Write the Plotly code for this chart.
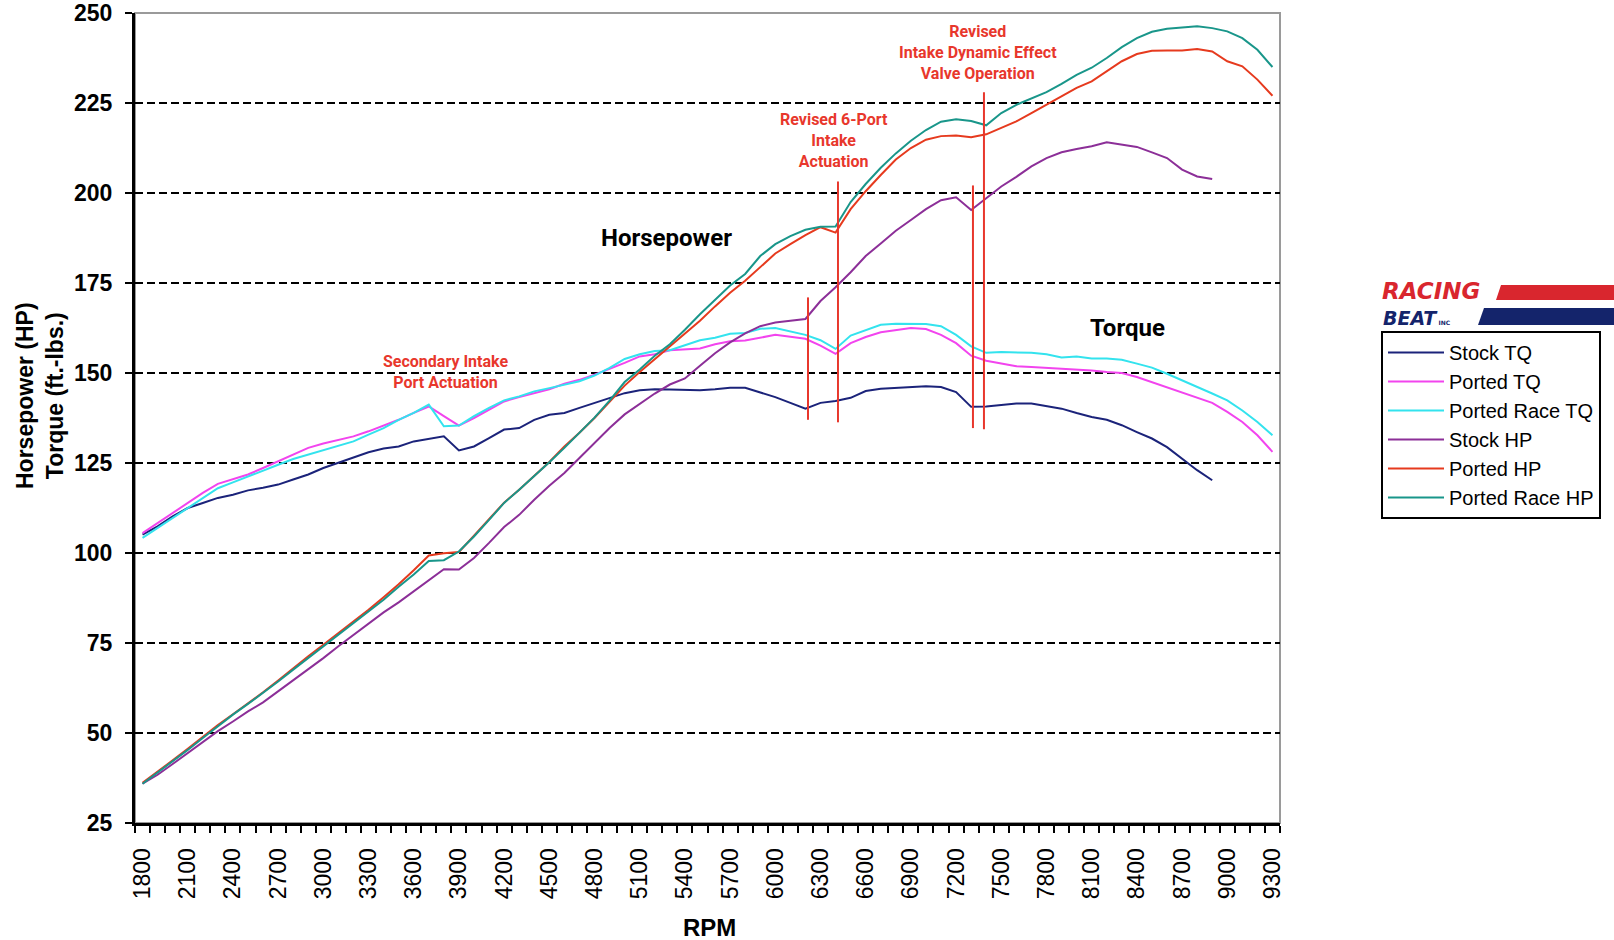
import plotly.graph_objects as go

# ---------------- data ----------------
rpm = list(range(1800, 9301, 100))
tick_rpm = list(range(1800, 9301, 300))

stock_tq = [105.1, 107.4, 110.2, 112.5, 113.9, 115.3, 116.2, 117.4, 118.1, 119.0,
            120.4, 121.8, 123.6, 125.0, 126.4, 128.0, 129.0, 129.6, 131.0, 131.7,
            132.4, 128.5, 129.6, 131.9, 134.3, 134.7, 137.0, 138.4, 138.9, 140.3,
            141.7, 143.0, 144.4, 145.2, 145.5, 145.4, 145.2, 145.2, 145.5, 145.9,
            145.9, 144.7, 143.3, 141.7, 140.1, 141.7, 142.2, 143.1, 145.0, 145.6,
            145.9, 146.1, 146.3, 146.1, 144.7, 140.6, 140.7, 141.1, 141.5, 141.5,
            140.9, 140.1, 138.9, 137.8, 137.0, 135.5, 133.6, 131.8, 129.4, 126.2,
            123.0, 120.2]

ported_tq = [105.5, 108.3, 111.1, 113.9, 116.7, 119.2, 120.4, 121.8, 123.6, 125.5,
             127.5, 129.2, 130.4, 131.5, 132.4, 133.8, 135.4, 137.0, 138.9, 140.7,
             138.0, 135.4, 137.5, 139.8, 142.1, 143.3, 144.4, 145.5, 147.0, 148.1,
             149.5, 151.1, 152.8, 154.6, 155.2, 156.3, 156.5, 156.8, 158.0, 158.8,
             159.0, 159.8, 160.6, 160.1, 159.5, 157.6, 155.3, 158.3, 160.0, 161.3,
             162.0, 162.5, 162.2, 160.6, 158.3, 154.8, 153.4, 152.6, 151.9, 151.7,
             151.5, 151.2, 150.9, 150.7, 150.3, 150.0, 148.9, 147.5, 146.1, 144.7,
             143.3, 141.7, 139.2, 136.4, 132.7, 128.1]

ported_race_tq = [104.2, 107.0, 109.7, 112.5, 115.3, 118.0, 119.6, 121.3, 123.0, 124.5,
                  126.1, 127.3, 128.7, 129.8, 131.0, 132.9, 134.7, 137.0, 138.9, 141.2,
                  135.2, 135.4, 138.0, 140.3, 142.4, 143.5, 144.9, 145.8, 146.8, 147.7,
                  149.3, 151.4, 153.9, 155.2, 156.1, 156.3, 157.7, 159.1, 159.8, 160.9,
                  161.1, 162.3, 162.5, 161.6, 160.6, 159.1, 156.7, 160.4, 162.0, 163.4,
                  163.7, 163.7, 163.6, 163.0, 160.6, 157.4, 155.6, 155.8, 155.8, 155.6,
                  155.2, 154.3, 154.6, 154.0, 154.0, 153.7, 152.6, 151.5, 149.8, 148.0,
                  146.3, 144.3, 142.4, 139.6, 136.4, 132.7]

stock_hp = [35.9, 38.4, 41.4, 44.4, 47.4, 50.5, 53.2, 56.0, 58.5, 61.6,
            64.5, 67.8, 70.8, 74.1, 77.3, 80.5, 83.5, 86.3, 89.4, 92.4,
            95.5, 95.4, 98.6, 102.8, 107.2, 110.6, 114.8, 118.7, 122.2, 126.4,
            130.5, 134.7, 138.5, 141.5, 144.3, 146.8, 148.5, 152.0, 155.5, 158.5,
            161.0, 163.0, 164.0, 164.5, 165.0, 170.0, 173.8, 178.0, 182.5, 186.0,
            189.5, 192.5, 195.5, 198.0, 198.8, 195.3, 198.5, 201.8, 204.5, 207.4,
            209.7, 211.3, 212.2, 213.0, 214.1, 213.4, 212.8, 211.3, 209.7, 206.5,
            204.6, 203.9]

ported_hp = [36.2, 39.2, 42.4, 45.6, 48.9, 52.2, 55.2, 58.2, 61.3, 64.6,
             68.0, 71.3, 74.5, 77.7, 80.8, 84.2, 87.7, 91.3, 95.2, 99.3,
             99.9, 100.3, 104.8, 109.4, 114.0, 117.6, 121.4, 125.3, 129.6, 133.4,
             137.5, 142.0, 146.5, 150.3, 153.8, 157.5, 161.0, 164.5, 168.5, 172.3,
             175.6, 179.5, 183.2, 185.8, 188.3, 190.5, 189.0, 195.5, 200.5, 205.0,
             209.3, 212.5, 214.8, 215.8, 216.0, 215.5, 216.3, 218.1, 219.9, 222.2,
             224.5, 226.9, 229.2, 231.0, 233.8, 236.6, 238.6, 239.5, 239.6, 239.6,
             240.0, 239.3, 236.6, 235.2, 231.5, 227.0]

ported_race_hp = [35.9, 39.0, 42.1, 45.3, 48.6, 51.9, 55.1, 58.1, 61.1, 64.3,
                  67.6, 70.8, 74.1, 77.3, 80.5, 83.7, 87.0, 90.6, 94.0, 97.8,
                  98.0, 100.4, 104.6, 109.2, 113.9, 117.6, 121.3, 125.2, 129.2, 133.3,
                  137.6, 142.3, 147.5, 151.0, 154.8, 158.0, 162.0, 166.3, 170.3, 174.3,
                  177.5, 182.5, 185.8, 188.0, 189.8, 190.6, 190.7, 197.5, 202.5, 207.0,
                  211.0, 214.5, 217.5, 219.8, 220.5, 220.0, 218.8, 222.2, 224.5, 226.3,
                  228.0, 230.3, 232.8, 234.8, 237.5, 240.5, 243.0, 244.8, 245.6, 246.0,
                  246.3, 245.8, 244.9, 243.0, 239.8, 235.0]

series_names = ["Stock TQ", "Ported TQ", "Ported Race TQ", "Stock HP", "Ported HP", "Ported Race HP"]
series_values = [stock_tq, ported_tq, ported_race_tq, stock_hp, ported_hp, ported_race_hp]
series_colors = ["#1b237a", "#f244ee", "#33e3ee", "#8c2f98", "#e63a1e", "#19968a"]

# ---------------- figure ----------------
fig = go.Figure()
for name, vals, color in zip(series_names, series_values, series_colors):
    fig.add_trace(go.Scatter(x=rpm[:len(vals)], y=vals, mode="lines", name=name,
                             line=dict(color=color, width=2)))

RED = "#e8372c"
COND = "Roboto, Liberation Sans, sans-serif"
ARIAL = "Liberation Sans, Arial, sans-serif"

shapes = []
# plot-area border (grey)
shapes.append(dict(type="rect", xref="paper", yref="paper", x0=0, x1=1, y0=0, y1=1,
                   line=dict(color="#9a9a9a", width=2), layer="below"))
# red actuation marker lines
for xr, ylo, yhi in [(6217, 137.0, 171.0), (6416, 136.3, 203.2),
                     (7312, 134.7, 202.1), (7385, 134.4, 228.0)]:
    shapes.append(dict(type="line", xref="x", yref="y", x0=xr, x1=xr, y0=ylo, y1=yhi,
                       line=dict(color=RED, width=2)))


def px(p):
    return (p - 135) / 1145.0


def py(p):
    return (823 - p) / 810.0


# logo bars
shapes.append(dict(type="path", xref="paper", yref="paper",
                   path=f"M {px(1496)} {py(300)} L {px(1501)} {py(285)} L {px(1614)} {py(285)} L {px(1614)} {py(300)} Z",
                   fillcolor="#d9262e", line=dict(width=0)))
shapes.append(dict(type="path", xref="paper", yref="paper",
                   path=f"M {px(1478)} {py(325)} L {px(1484)} {py(308)} L {px(1614)} {py(308)} L {px(1614)} {py(325)} Z",
                   fillcolor="#14246b", line=dict(width=0)))

annotations = [
    dict(x=3808, y=150.2, xref="x", yref="y", text="Secondary Intake<br>Port Actuation",
         showarrow=False, font=dict(family=COND, size=16, color=RED, weight="bold")),
    dict(x=6390, y=214.6, xref="x", yref="y", text="Revised 6-Port<br>Intake<br>Actuation",
         showarrow=False, font=dict(family=COND, size=16, color=RED, weight="bold")),
    dict(x=7346, y=239.0, xref="x", yref="y", text="Revised<br>Intake Dynamic Effect<br>Valve Operation",
         showarrow=False, font=dict(family=COND, size=16, color=RED, weight="bold")),
    dict(x=5275, y=187.6, xref="x", yref="y", text="Horsepower", showarrow=False,
         font=dict(family=COND, size=24, color="black", weight="bold")),
    dict(x=8335, y=162.6, xref="x", yref="y", text="Torque", showarrow=False,
         font=dict(family=COND, size=24, color="black", weight="bold")),
    # axis titles
    dict(x=px(40), y=py(396), xref="paper", yref="paper", text="Horsepower (HP)<br>Torque (ft.-lbs.)",
         textangle=-90, showarrow=False, xanchor="center", yanchor="middle",
         font=dict(family=ARIAL, size=23, color="black", weight="bold")),
    dict(x=px(710), y=py(927), xref="paper", yref="paper", text="RPM", showarrow=False,
         xanchor="center", yanchor="middle",
         font=dict(family=ARIAL, size=24, color="black", weight="bold")),
    # logo text
    dict(x=px(1380), y=py(291), xref="paper", yref="paper", text="<i>RACING</i>", showarrow=False,
         xanchor="left", yanchor="middle",
         font=dict(family="DejaVu Sans", size=23, color="#d9262e", weight="bold")),
    dict(x=px(1381), y=py(318), xref="paper", yref="paper",
         text="<i>BEAT</i><span style='font-size:6px'> INC</span>", showarrow=False,
         xanchor="left", yanchor="middle",
         font=dict(family="DejaVu Sans", size=19, color="#14246b", weight="bold")),
]

fig.update_layout(
    width=1614, height=940,
    margin=dict(l=135, r=334, t=13, b=117, autoexpand=False),
    paper_bgcolor="white", plot_bgcolor="white",
    showlegend=True,
    legend=dict(x=px(1381), xanchor="left", y=py(331), yanchor="top",
                bordercolor="black", borderwidth=2, bgcolor="white", itemwidth=56,
                font=dict(family=ARIAL, size=20, color="black"), traceorder="normal"),
    xaxis=dict(range=[1750, 9350], tickvals=tick_rpm, ticktext=[str(r) for r in tick_rpm],
               tickangle=-90, ticks="", showgrid=False, zeroline=False,
               showline=True, linecolor="black", linewidth=3,
               tickfont=dict(family=ARIAL, size=23, color="black"),
               ticklabelstandoff=13,
               minor=dict(ticks="outside", tick0=1750, dtick=100, ticklen=7, tickwidth=2,
                          tickcolor="black", showgrid=False)),
    yaxis=dict(range=[25, 250], tick0=25, dtick=25, ticks="outside", ticklen=7, tickwidth=2,
               tickcolor="black", showline=True, linecolor="black", linewidth=3,
               showgrid=True, gridcolor="black", gridwidth=2, griddash="8px,4px",
               zeroline=False, ticklabelstandoff=8,
               tickfont=dict(family=ARIAL, size=23, color="black", weight="bold")),
    shapes=shapes,
    annotations=annotations,
)

fig.write_html("out.html", config={"displayModeBar": False},
               post_script="document.body.style.margin='0';document.body.style.overflow='hidden';")
